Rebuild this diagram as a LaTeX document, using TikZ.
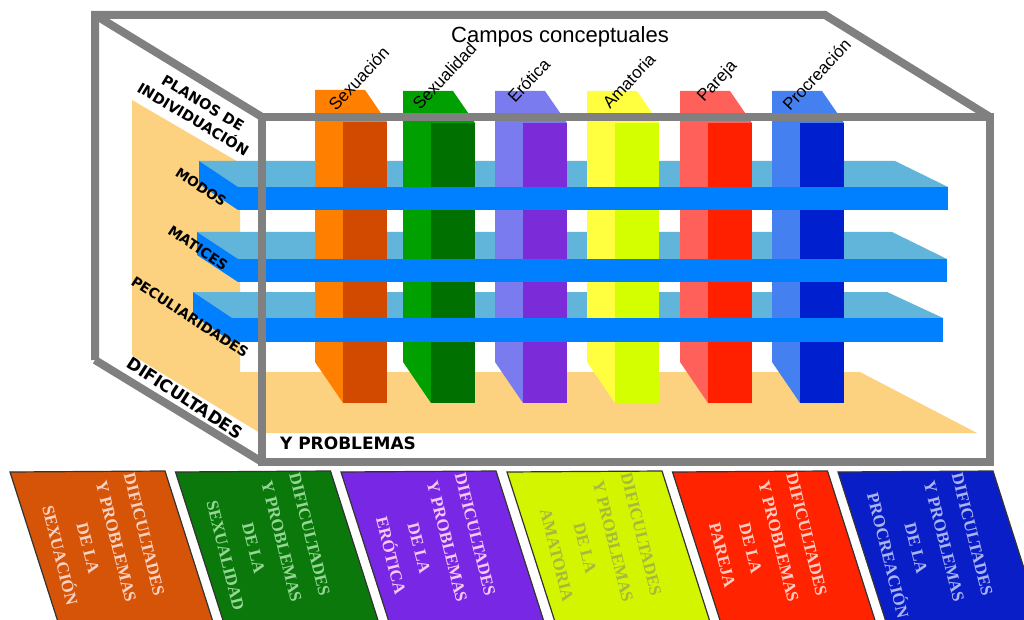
\documentclass[tikz,border=0pt]{standalone}
\usepackage{fontspec}
\setmainfont{Liberation Sans}
\newfontfamily\labfont{DejaVu Sans}
\newfontfamily\boxfont{Liberation Serif}
\definecolor{peach}{RGB}{252,210,128}
\definecolor{shelftop}{RGB}{98,181,218}
\definecolor{shelfblue}{RGB}{0,128,255}
\definecolor{boxgray}{RGB}{128,128,128}
\definecolor{cAl}{RGB}{255,128,0}\definecolor{cAd}{RGB}{210,74,0}
\definecolor{cBl}{RGB}{0,160,0}\definecolor{cBd}{RGB}{0,112,0}
\definecolor{cCl}{RGB}{123,123,240}\definecolor{cCd}{RGB}{123,43,216}
\definecolor{cDl}{RGB}{255,255,64}\definecolor{cDd}{RGB}{212,255,0}
\definecolor{cEl}{RGB}{255,96,90}\definecolor{cEd}{RGB}{255,32,0}
\definecolor{cFl}{RGB}{68,128,240}\definecolor{cFd}{RGB}{0,32,208}
\definecolor{bxA}{RGB}{213,84,8}\definecolor{txA}{RGB}{250,210,195}
\definecolor{bxB}{RGB}{10,120,10}\definecolor{txB}{RGB}{150,215,150}
\definecolor{bxC}{RGB}{120,40,228}\definecolor{txC}{RGB}{245,200,245}
\definecolor{bxD}{RGB}{212,245,0}\definecolor{txD}{RGB}{165,185,60}
\definecolor{bxE}{RGB}{255,35,0}\definecolor{txE}{RGB}{255,205,195}
\definecolor{bxF}{RGB}{10,30,200}\definecolor{txF}{RGB}{170,180,240}
\tikzset{
  grayline/.style={draw=boxgray, line width=8pt, line join=miter},
  coltext/.style={font=\fontsize{17}{20}\selectfont, anchor=base west, rotate=47, inner sep=0pt},
  lefttext/.style={align=center, inner sep=0pt},
  boxtext/.style={font=\boxfont\bfseries\fontsize{17}{29}\selectfont, align=center, rotate=-76, inner sep=0pt},
  bottombox/.style={draw=black!80, line width=1.2pt}
}
\begin{document}
\begin{tikzpicture}[x=1pt,y=-1pt]
\clip (0,0) rectangle (1024,620);
\fill[white] (0,0) rectangle (1024,620);
% left wall and floor
\fill[peach] (132,100) -- (240,163) -- (240,372) -- (860,372) -- (977,433) -- (260,433) -- (132,355) -- cycle;
% shelf top faces
\foreach \bl/\by/\fl/\fy/\bot/\br/\fr in {199/161/238/187/210/895/948, 197/232/238/259/282/892/947, 193/292/232/318/342/887/943}{
  \fill[shelftop] (\bl,\by) -- (\br,\by) -- (\fr,\fy) -- (\fl,\fy) -- cycle;
}
% columns
\foreach \L/\ty/\lc/\dc in {315/90/cAl/cAd, 403/91/cBl/cBd, 495/91/cCl/cCd, 587/91/cDl/cDd, 680/91/cEl/cEd, 772/91/cFl/cFd}{
  \fill[\lc] (\L,\ty) -- ({\L+50},\ty) -- ({\L+72},{\ty+32}) -- ({\L+28},{\ty+32}) -- ({\L+28},403) -- (\L,362) -- cycle;
  \fill[\dc] ({\L+28},{\ty+32}) rectangle ({\L+72},403);
}
% shelf left and front faces
\foreach \bl/\by/\fl/\fy/\bot/\br/\fr in {199/161/238/187/210/895/948, 197/232/238/259/282/892/947, 193/292/232/318/342/887/943}{
  \fill[shelfblue] (\bl,\by) -- (\fl,\fy) -- (\fl,\bot) -- (\bl,{\by+23}) -- cycle;
  \fill[shelfblue] (\fl,\fy) rectangle (\fr,\bot);
}
% column labels
\node[coltext] (l1) at (336,112) {Sexuación};
\node[coltext] (l2) at (420,111) {Sexualidad};
\node[coltext] (l3) at (515,104) {Erótica};
\node[coltext] (l4) at (610,110) {Amatoria};
\node[coltext] (l5) at (704,103) {Pareja};
\node[coltext] (l6) at (790,112) {Procreación};
\node[font=\fontsize{22}{25}\selectfont, anchor=base, inner sep=0pt] (campos) at (560,43) {Campos conceptuales};
% left labels
\node[lefttext, font=\labfont\bfseries\fontsize{14.5}{19}\selectfont, rotate=-31] (planos) at (198,111) {PLANOS DE\\INDIVIDUACIÓN};
\node[lefttext, font=\labfont\bfseries\fontsize{13.5}{16}\selectfont, rotate=-33] (modos) at (201,187) {MODOS};
\node[lefttext, font=\labfont\bfseries\fontsize{14}{16}\selectfont, rotate=-34] (matices) at (198,248) {MATICES};
\node[lefttext, font=\labfont\bfseries\fontsize{14}{16}\selectfont, rotate=-33] (pecul) at (190,317) {PECULIARIDADES};
\node[lefttext, font=\labfont\bfseries\fontsize{17}{20}\selectfont, rotate=-33] (dific) at (185,398) {DIFICULTADES};
\node[lefttext, font=\labfont\bfseries\fontsize{17}{20}\selectfont] (yprob) at (348,443) {Y PROBLEMAS};
% gray box
\draw[grayline] (95,360) -- (95,15) -- (825,15) -- (990,117);
\draw[grayline] (95,15) -- (262,117);
\draw[grayline] (95,360) -- (262,462);
\draw[grayline] (262,117) rectangle (990,462);
% bottom boxes
\foreach \x/\fc/\tc/\word [count=\i] in {10/bxA/txA/SEXUACIÓN, 175.5/bxB/txB/SEXUALIDAD, 341/bxC/txC/ERÓTICA, 507/bxD/txD/AMATORIA, 672.5/bxE/txE/PAREJA, 838/bxF/txF/PROCREACIÓN}{
  \filldraw[bottombox, fill=\fc] (\x,472) -- ({\x+155},471) -- ({\x+204},625) -- ({\x+49},625) -- cycle;
  \node[boxtext, text=\tc] (bt\i) at ({\x+92},545) {DIFICULTADES\\Y PROBLEMAS\\DE LA\\\word};
}
\end{tikzpicture}
\end{document}
